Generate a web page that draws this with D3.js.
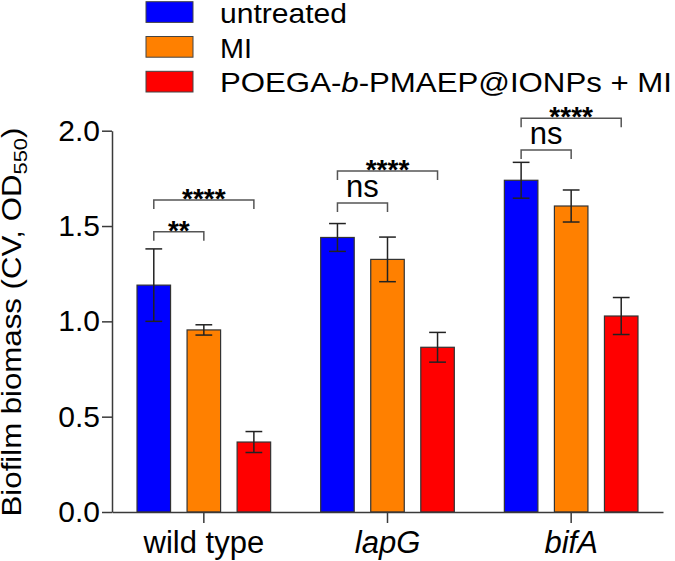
<!DOCTYPE html>
<html>
<head>
<meta charset="utf-8">
<script src="https://cdn.jsdelivr.net/npm/d3@7"></script>
<style>
  html, body { margin: 0; padding: 0; background: #fff; }
  svg { display: block; font-family: "Liberation Sans", Arial, Helvetica, sans-serif; }
</style>
</head>
<body>
<svg id="chart" width="675" height="561"></svg>
<script>
// ---- data ----
const categories = ["wild type", "lapG", "bifA"];
const seriesNames = ["untreated", "MI", "POEGA-b-PMAEP@IONPs + MI"];
const seriesColors = ["#0000FF", "#FF8000", "#FF0000"];
const untreatedVals = [1.19, 1.44, 1.74];
const untreatedErr  = [0.19, 0.073, 0.094];
const miVals        = [0.955, 1.325, 1.605];
const miErr         = [0.027, 0.117, 0.084];
const poegaVals     = [0.367, 0.864, 1.028];
const poegaErr      = [0.055, 0.078, 0.097];
const yTicks = [0, 0.5, 1.0, 1.5, 2.0];
// significance brackets: category index, from series, to series, level (data units), label
const brackets = [
  { cat: 0, from: 0, to: 1, level: 1.470, label: "**" },
  { cat: 0, from: 0, to: 2, level: 1.636, label: "****" },
  { cat: 1, from: 0, to: 1, level: 1.621, label: "ns" },
  { cat: 1, from: 0, to: 2, level: 1.789, label: "****" },
  { cat: 2, from: 0, to: 1, level: 1.899, label: "ns" },
  { cat: 2, from: 0, to: 2, level: 2.065, label: "****" }
];

(function () {
const values = [untreatedVals, miVals, poegaVals];
const errs = [untreatedErr, miErr, poegaErr];

const svg = d3.select("#chart");
const plotL = 112, plotR = 663, plotB = 512, plotT = 130.7;

const x0 = d3.scaleBand().domain(categories).range([plotL, plotR]).padding(0);
const x1 = d3.scaleBand().domain(d3.range(3)).range([0, x0.bandwidth()])
  .paddingInner(0.33).paddingOuter(0.5);
const y = d3.scaleLinear().domain([0, 2]).range([plotB, plotT]);

const axisColor = "#3a3a3a";

// bars
const rows = [];
categories.forEach((c, ci) => {
  for (let s = 0; s < 3; s++) rows.push({ c, ci, s, v: values[s][ci], e: errs[s][ci] });
});

const bars = svg.append("g");
bars.selectAll("rect").data(rows).join("rect")
  .attr("x", d => x0(d.c) + x1(d.s))
  .attr("y", d => y(d.v))
  .attr("width", x1.bandwidth())
  .attr("height", d => y(0) - y(d.v))
  .attr("fill", d => seriesColors[d.s])
  .attr("stroke", "#333")
  .attr("stroke-width", 1.2);

// error bars
const capW = x1.bandwidth() / 2;
const eb = svg.append("g").attr("stroke", "#222").attr("stroke-width", 1.5).attr("fill", "none");
rows.forEach(d => {
  const cx = x0(d.c) + x1(d.s) + x1.bandwidth() / 2;
  eb.append("line").attr("x1", cx).attr("x2", cx).attr("y1", y(d.v + d.e)).attr("y2", y(d.v - d.e));
  eb.append("line").attr("x1", cx - capW / 2).attr("x2", cx + capW / 2).attr("y1", y(d.v + d.e)).attr("y2", y(d.v + d.e));
  eb.append("line").attr("x1", cx - capW / 2).attr("x2", cx + capW / 2).attr("y1", y(d.v - d.e)).attr("y2", y(d.v - d.e));
});

// y axis
const yAxis = svg.append("g").attr("transform", `translate(${plotL},0)`)
  .call(d3.axisLeft(y).tickValues(yTicks).tickFormat(d3.format(".1f")).tickSize(10).tickSizeOuter(0).tickPadding(2));
yAxis.select(".domain").attr("stroke", axisColor).attr("stroke-width", 1.5);
yAxis.selectAll(".tick line").attr("stroke", axisColor).attr("stroke-width", 1.5);
yAxis.selectAll(".tick text").attr("font-size", 30).attr("fill", "#000")
  .attr("font-family", "'Liberation Sans', Arial, sans-serif");

// x axis
const xAxis = svg.append("g").attr("transform", `translate(0,${plotB})`)
  .call(d3.axisBottom(x0).tickSize(11).tickSizeOuter(0).tickPadding(8));
xAxis.select(".domain").attr("stroke", axisColor).attr("stroke-width", 1.5);
xAxis.selectAll(".tick line").attr("stroke", axisColor).attr("stroke-width", 1.5);
xAxis.selectAll(".tick text").attr("font-size", 31).attr("fill", "#000")
  .attr("font-family", "'Liberation Sans', Arial, sans-serif")
  .attr("font-style", d => d === "wild type" ? "normal" : "italic");

// significance brackets
const legPx = 9;
const br = svg.append("g");
brackets.forEach(b => {
  const c = categories[b.cat];
  const xa = x0(c) + x1(b.from) + x1.bandwidth() / 2;
  const xb = x0(c) + x1(b.to) + x1.bandwidth() / 2;
  const yy = y(b.level);
  br.append("path")
    .attr("d", `M${xa},${yy + legPx}V${yy}H${xb}V${yy + legPx}`)
    .attr("fill", "none").attr("stroke", "#555").attr("stroke-width", 1.5);
  const t = br.append("text").attr("x", (xa + xb) / 2).attr("text-anchor", "middle").text(b.label);
  if (b.label === "ns") {
    t.attr("y", yy - 6).attr("font-size", 31);
  } else {
    t.attr("y", yy + 8).attr("font-size", 28).attr("font-weight", "bold");
  }
});

// y label
const yl = svg.append("g").attr("transform", "translate(21,322) rotate(-90)");
const ylt = yl.append("text").attr("text-anchor", "middle").attr("font-size", 27);
ylt.append("tspan").text("Biofilm biomass (CV, OD");
ylt.append("tspan").attr("font-size", 19).attr("dy", 6).text("550");
ylt.append("tspan").attr("dy", -6).text(")");
const ylLen = ylt.node().getComputedTextLength();
ylt.attr("transform", `scale(${389 / ylLen},1)`);

// legend
const legendW = [127, 32, 452];
const lg = svg.append("g");
seriesNames.forEach((name, i) => {
  const yy = 1.7 + i * 34.8;
  lg.append("rect").attr("x", 146).attr("y", yy).attr("width", 47).attr("height", 20.7)
    .attr("fill", seriesColors[i]).attr("stroke", "#444").attr("stroke-width", 1);
  const t = lg.append("text").attr("x", 220).attr("y", yy + 21).attr("font-size", 27.5);
  if (name.includes("-b-")) {
    const parts = name.split("-b-");
    t.append("tspan").text(parts[0] + "-");
    t.append("tspan").attr("font-style", "italic").text("b");
    t.append("tspan").text("-" + parts[1]);
  } else {
    t.text(name);
  }
  t.attr("textLength", legendW[i]).attr("lengthAdjust", "spacingAndGlyphs");
});
})();
</script>
</body>
</html>
